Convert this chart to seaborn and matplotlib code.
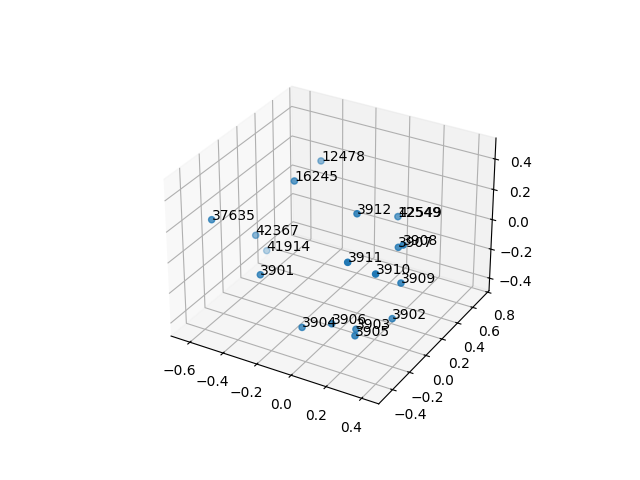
import matplotlib
matplotlib.use("Agg")
import matplotlib.pyplot as plt
import seaborn as sns

labels = ["3901","3902","3903","3904","3905","3906","3907","3908","3909","3910","3911","3912","12478","12549","42549","16245","37635","41914","42367"]
xs = [-0.213,0.4,0.284,0.022,0.324,0.177,0.364,0.428,0.445,0.458,0.319,0.187,-0.355,-0.003,-0.003,-0.235,-0.513,-0.686,-0.535]
ys = [-0.479,-0.215,-0.393,-0.477,-0.485,-0.451,-0.080,-0.161,-0.216,-0.537,-0.560,-0.192,0.472,0.70,0.70,-0.060,-0.438,0.449,0.057]
zs = [0.053,-0.158,-0.172,-0.208,-0.149,-0.143,0.219,0.295,0.088,0.315,0.352,0.428,0.292,-0.08,-0.08,0.441,0.287,-0.414,-0.064]
x_limits = (-0.715, 0.495)
y_limits = (-0.56, 0.82)
z_limits = (-0.487, 0.535)

color = sns.color_palette("tab10")[0]
fig = plt.figure(figsize=(6.4, 4.8), dpi=100)
ax = fig.add_subplot(projection="3d")
ax.scatter(xs, ys, zs, color=color)
for label, x, y, z in zip(labels, xs, ys, zs):
    ax.text(x, y, z, label)
ax.set_xlim(*x_limits)
ax.set_ylim(*y_limits)
ax.set_zlim(*z_limits)
fig.savefig("out.png", dpi=100)
